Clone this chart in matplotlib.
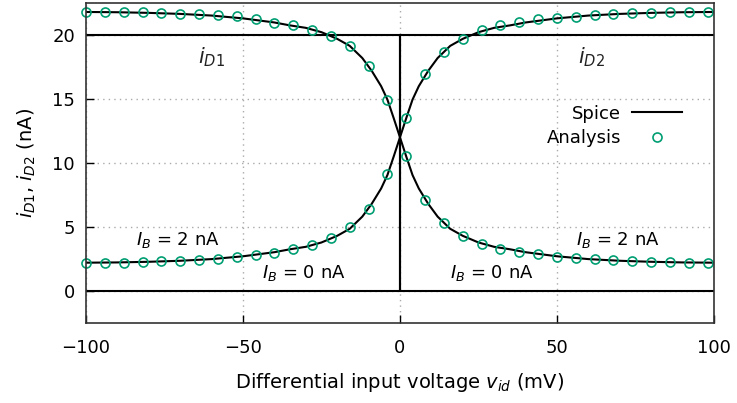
import matplotlib
matplotlib.use("Agg")
import matplotlib.pyplot as plt

# Analysis points (every 6 mV)
vid_pts = [-100, -94, -88, -82, -76, -70, -64, -58, -52, -46, -40, -34, -28, -22,
           -16, -10, -4, 2, 8, 14, 20, 26, 32, 38, 44, 50, 56, 62, 68, 74, 80, 86, 92, 98]
id1_pts = [21.80, 21.80, 21.80, 21.78, 21.70, 21.65, 21.62, 21.55, 21.45, 21.25,
           20.97, 20.78, 20.40, 19.92, 19.17, 17.60, 14.92, 10.52, 7.10, 5.33,
           4.31, 3.66, 3.30, 3.04, 2.85, 2.67, 2.60, 2.46, 2.41, 2.30, 2.27, 2.25, 2.20, 2.15]
id2_pts = [2.15, 2.17, 2.20, 2.22, 2.30, 2.35, 2.40, 2.52, 2.62, 2.78,
           2.98, 3.24, 3.58, 4.14, 4.97, 6.40, 9.12, 13.50, 16.92, 18.70,
           19.72, 20.37, 20.76, 21.02, 21.23, 21.36, 21.44, 21.57, 21.65, 21.74, 21.74, 21.80, 21.80, 21.80]

# Spice curves, IB = 2 nA
vid_sp = [-100, -90, -80, -70, -60, -50, -40, -35, -30, -25, -20, -16, -12, -9, -6, -4, -2, 0,
          2, 4, 6, 9, 12, 16, 20, 25, 30, 35, 40, 50, 60, 70, 80, 90, 100]
id1_sp = [21.80, 21.78, 21.73, 21.65, 21.52, 21.30, 20.98, 20.75, 20.56, 20.22, 19.70, 19.15,
          18.20, 17.20, 16.00, 14.95, 13.50, 12.00, 10.50, 9.05, 8.00, 6.80, 5.80, 4.85,
          4.30, 3.78, 3.44, 3.25, 3.02, 2.70, 2.48, 2.35, 2.27, 2.22, 2.20]
id2_sp = [2.20, 2.22, 2.27, 2.35, 2.48, 2.70, 3.02, 3.25, 3.44, 3.78, 4.30, 4.85,
          5.80, 6.80, 8.00, 9.05, 10.50, 12.00, 13.50, 14.95, 16.00, 17.20, 18.20, 19.15,
          19.70, 20.22, 20.56, 20.75, 20.98, 21.30, 21.52, 21.65, 21.73, 21.78, 21.80]

# Spice curves, IB = 0 nA
vid_b0 = [-100, 0, 0, 100]
id1_b0 = [20, 20, 0, 0]
id2_b0 = [0, 0, 20, 20]

green = "#009e73"
plt.rcParams["font.family"] = "DejaVu Sans"
plt.rcParams["mathtext.fontset"] = "dejavusans"

fig = plt.figure(figsize=(7.37, 4.03), dpi=100)
ax = fig.add_axes([0.1167, 0.199, 0.852, 0.7935])

ax.plot(vid_b0, id1_b0, color="black", lw=1.5)
ax.plot(vid_b0, id2_b0, color="black", lw=1.5)
ax.plot(vid_sp, id1_sp, color="black", lw=1.5, label="Spice")
ax.plot(vid_sp, id2_sp, color="black", lw=1.5)
ax.plot(vid_pts, id1_pts, ls="none", marker="o", ms=6.5, mfc="none", mec=green, mew=1.2,
        label="Analysis", clip_on=False)
ax.plot(vid_pts, id2_pts, ls="none", marker="o", ms=6.5, mfc="none", mec=green, mew=1.2,
        clip_on=False)

ax.set_xlim(-100, 100)
ax.set_ylim(-2.5, 22.5)
ax.set_xticks([-100, -50, 0, 50, 100])
ax.set_yticks([0, 5, 10, 15, 20])
ax.tick_params(direction="in", length=6, width=1, labelsize=13)
ax.tick_params(axis="x", pad=12)
ax.tick_params(axis="y", pad=8)
ax.grid(True, ls=(0, (1, 3)), color="#aaaaaa", lw=1)
for s in ax.spines.values():
    s.set_linewidth(1.2)
    s.set_color("#333333")

ax.set_xlabel("Differential input voltage $v_{id}$ (mV)", fontsize=14, labelpad=10)
ax.set_ylabel("$i_{D1}$, $i_{D2}$ (nA)", fontsize=14, labelpad=10)

ax.text(-60, 18.3, "$i_{D1}$", fontsize=15, ha="center", va="center", color="#222222")
ax.text(61, 18.3, "$i_{D2}$", fontsize=15, ha="center", va="center", color="#222222")
ax.text(-84, 4.0, "$I_B$ = 2 nA", fontsize=13, ha="left", va="center")
ax.text(-44, 1.4, "$I_B$ = 0 nA", fontsize=13, ha="left", va="center")
ax.text(16, 1.4, "$I_B$ = 0 nA", fontsize=13, ha="left", va="center")
ax.text(56, 4.0, "$I_B$ = 2 nA", fontsize=13, ha="left", va="center")

ax.legend(loc="upper right", bbox_to_anchor=(0.97, 0.722), frameon=False, markerfirst=False,
          fontsize=13, handlelength=2.8, handletextpad=0.6, labelspacing=0.35, borderpad=0.2)

fig.savefig("out.png", dpi=100)
